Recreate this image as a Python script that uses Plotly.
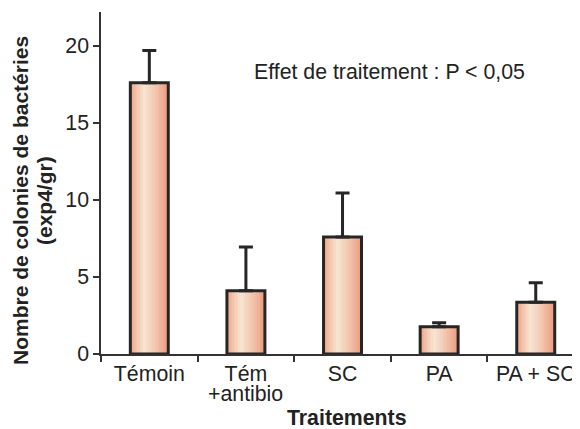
import plotly.graph_objects as go

categories = ["Témoin", "Tém +antibio", "SC", "PA", "PA + SC"]
tick_line1 = ["Témoin", "Tém", "SC", "PA", "PA + SC"]
tick_line2 = ["", "+antibio", "", "", ""]
values = [17.6, 4.1, 7.6, 1.77, 3.36]
errors = [2.1, 2.85, 2.85, 0.26, 1.27]
y_ticks = [0, 5, 10, 15, 20]

FONT = "Liberation Sans, Arial, sans-serif"
DARK = "#262626"
FS = 21.3

W = 0.393      # bar width in category units
N = 26         # gradient slices

edge_l = (240, 156, 124)
edge_r = (236, 150, 120)
light = (246, 229, 211)
peak = 0.38

def grad(t):
    if t <= peak:
        s = t / peak
        e = edge_l
    else:
        s = (1 - t) / (1 - peak)
        e = edge_r
    s = s ** 0.8
    c = [round(e[k] + (light[k] - e[k]) * s) for k in range(3)]
    return "rgb(%d,%d,%d)" % tuple(c)

fig = go.Figure()
sw = W / N
for i in range(N):
    t = (i + 0.5) / N
    fig.add_trace(go.Bar(
        x=categories, y=values,
        width=sw * 1.15, offset=-W / 2 + i * sw,
        marker=dict(color=grad(t), line=dict(width=0)),
        hoverinfo="skip", showlegend=False,
    ))

fig.add_trace(go.Bar(
    x=categories, y=values, width=W, offset=-W / 2,
    marker=dict(color="rgba(0,0,0,0)", line=dict(color=DARK, width=3)),
    error_y=dict(type="data", symmetric=False, array=errors,
                 arrayminus=[0] * len(errors),
                 color=DARK, thickness=3, width=7),
    showlegend=False,
))

annotations = [
    dict(text="Effet de traitement : P < 0,05", xref="paper", yref="paper",
         x=0.315, y=0.826, xanchor="left", yanchor="middle",
         showarrow=False, font=dict(family=FONT, size=FS, color="#222")),
    dict(text="<b>Traitements</b>", xref="paper", yref="paper",
         x=(347 - 101) / 479, y=(354 - 418) / 342, xanchor="center",
         yanchor="middle", showarrow=False,
         font=dict(family=FONT, size=FS, color="#222")),
    dict(text="<b>Nombre de colonies de bactéries</b>", xref="paper",
         yref="paper", x=(21 - 101) / 479, y=(354 - 201) / 342,
         xanchor="center", yanchor="middle", textangle=-90,
         showarrow=False, font=dict(family=FONT, size=21, color="#222")),
    dict(text="<b>(exp4/gr)</b>", xref="paper", yref="paper",
         x=(45 - 101) / 479, y=(354 - 201) / 342,
         xanchor="center", yanchor="middle", textangle=-90,
         showarrow=False, font=dict(family=FONT, size=21, color="#222")),
]
for cat, t2 in zip(categories, tick_line2):
    if t2:
        annotations.append(dict(
            text=t2, x=cat, xref="x", yref="paper", y=(354 - 393.5) / 342,
            xanchor="center", yanchor="middle", showarrow=False,
            font=dict(family=FONT, size=FS, color="#222")))

# page body has an 8px margin: the figure is sized/offset to compensate
fig.update_layout(
    width=572, height=421,
    margin=dict(l=93, r=0, t=4, b=75, autoexpand=False),
    paper_bgcolor="white", plot_bgcolor="white",
    barmode="overlay",
    font=dict(family=FONT, size=FS, color="#222"),
    xaxis=dict(
        type="category", range=[-0.5, 4.458], automargin=False,
        tickvals=categories, ticktext=tick_line1,
        tickson="boundaries", ticks="outside", ticklen=6, tickwidth=1.5,
        tickcolor="#333", showline=True, linecolor="#333", linewidth=1.5,
        showgrid=False, zeroline=False,
        tickfont=dict(family=FONT, size=FS, color="#222"),
    ),
    yaxis=dict(
        range=[0, 22.2], tickvals=y_ticks, ticks="outside", ticklen=6,
        automargin=False,
        tickwidth=1.5, tickcolor="#333", showline=True, linecolor="#333",
        linewidth=1.5, showgrid=False, zeroline=False,
        tickfont=dict(family=FONT, size=FS, color="#222"),
    ),
    annotations=annotations,
)

fig.write_html("out.html")
